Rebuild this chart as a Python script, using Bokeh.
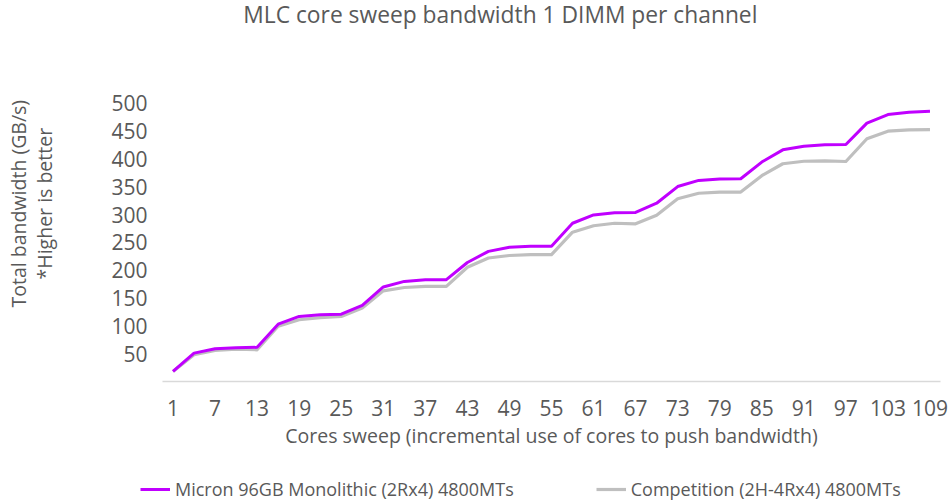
from bokeh.plotting import figure
from bokeh.layouts import column
from bokeh.models import (ColumnDataSource, FixedTicker, Legend, LegendItem, Range1d,
                          LinearAxis, Label)
from bokeh.embed import file_html
from bokeh.resources import INLINE

title = "MLC core sweep bandwidth 1 DIMM per channel"
cores = list(range(1, 110, 3))
micron = [18, 51, 59, 60.5, 61.5, 103, 117, 120, 121, 137, 170, 180, 183, 183, 214,
          234, 241.5, 243, 243, 284.5, 299.5, 303.5, 304, 320.5, 350.5, 361.5, 364,
          364.5, 394.5, 416.5, 423, 425.5, 426, 464.5, 480, 484, 486]
competition = [18, 48, 56, 58, 57, 99.5, 111, 115, 117, 132, 163, 169, 171, 171, 205.5,
               222, 226.5, 228, 228, 268.5, 280, 284.5, 283.5, 299, 328.5, 338.5, 340.5,
               340.5, 370, 391.5, 396, 396.5, 395.5, 436.5, 450, 452.5, 453]
x_ticks = list(range(1, 110, 6))
y_ticks = [50, 100, 150, 200, 250, 300, 350, 400, 450, 500]

FONT = "Open Sans"
TXT = "#595959"
PAD = "\u00a0" * 5
MAG = "#c000ff"
GRY = "#bfbfbf"

src = ColumnDataSource(dict(x=cores, m=micron, c=competition))

# main chart: frame reaches the top so the title sits inside it
p = figure(width=949, height=461, frame_width=778, frame_height=381,
           output_backend="svg", toolbar_location=None,
           x_range=Range1d(-0.5, 110.5), y_range=Range1d(0, 685),
           min_border_left=162, min_border_right=9, min_border_top=0, min_border_bottom=80)
p.outline_line_color = None
p.grid.grid_line_color = None

p.add_layout(Label(x=47.7, y=660, text=title, text_align="center", text_baseline="middle",
                   text_font=FONT, text_font_size="22.8px", text_color=TXT))

r_c = p.line("x", "c", source=src, line_color=GRY, line_width=3.2, line_join="round")
r_m = p.line("x", "m", source=src, line_color=MAG, line_width=3, line_join="round")

outer = LinearAxis(axis_label="Total bandwidth (GB/s)" + PAD)
p.add_layout(outer, "left")

p.xaxis.ticker = FixedTicker(ticks=x_ticks)
for ax in (p.xaxis[0], p.yaxis[0], outer):
    ax.major_tick_line_color = None
    ax.minor_tick_line_color = None
    ax.major_tick_out = 0
    ax.minor_tick_out = 0
    ax.major_label_text_font = FONT
    ax.major_label_text_font_size = "21px"
    ax.major_label_text_color = TXT
    ax.axis_label_text_font = FONT
    ax.axis_label_text_font_style = "normal"
    ax.axis_label_text_color = TXT
    ax.axis_label_text_font_size = "19.5px"
p.yaxis[0].ticker = FixedTicker(ticks=y_ticks)
outer.ticker = FixedTicker(ticks=[])
outer.major_label_text_font_size = "0px"
outer.major_label_standoff = 0
outer.axis_label_standoff = -3
outer.axis_line_color = None
p.xaxis.axis_line_color = "#d9d9d9"
p.xaxis.axis_line_width = 1.5
p.yaxis[0].axis_line_color = None
p.xaxis.major_label_standoff = 18
p.yaxis[0].major_label_standoff = 15
p.xaxis.axis_label = "Cores sweep (incremental use of cores to push bandwidth)"
p.yaxis[0].axis_label = "*Higher is better" + PAD
p.xaxis.axis_label_standoff = 3
p.yaxis[0].axis_label_standoff = 50

# legend strip under the chart
lg = figure(width=949, height=40, output_backend="svg", toolbar_location=None,
            x_range=Range1d(1000, 1001), y_range=Range1d(0, 1),
            min_border_left=0, min_border_right=0, min_border_top=0, min_border_bottom=0)
try:
    lg.frame_align = False
except Exception:
    pass
lg.axis.visible = False
lg.grid.grid_line_color = None
lg.outline_line_color = None
l_m = lg.line("x", "m", source=src, line_color=MAG, line_width=3)
l_c = lg.line("x", "c", source=src, line_color=GRY, line_width=3.2)
legend = Legend(items=[LegendItem(label="Micron 96GB Monolithic (2Rx4) 4800MTs", renderers=[l_m]),
                       LegendItem(label="Competition (2H-4Rx4) 4800MTs", renderers=[l_c])],
                orientation="horizontal", location=(140, 0), spacing=82,
                label_text_font=FONT, label_text_font_size="18px", label_text_color=TXT,
                glyph_width=30, label_standoff=5, border_line_color=None,
                background_fill_alpha=0, margin=0, padding=0)
lg.add_layout(legend, "center")

open("out.html", "w").write(file_html(column(p, lg), INLINE))
